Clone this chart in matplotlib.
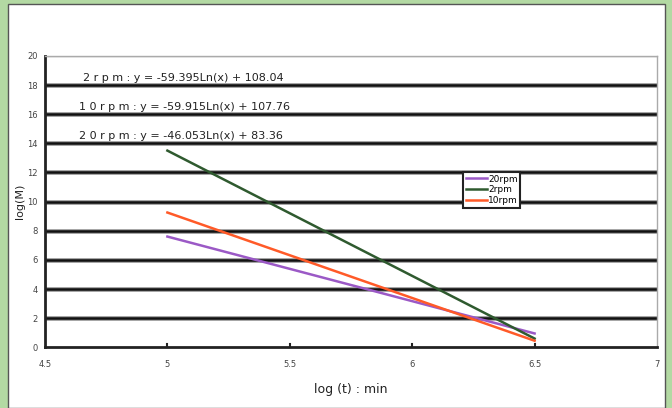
import matplotlib
matplotlib.use('Agg')
import matplotlib.pyplot as plt
from matplotlib.patches import Rectangle

# Données
log_t = [5.0, 6.5]
m_20rpm = [7.6, 0.95]
m_2rpm = [13.5, 0.6]
m_10rpm = [9.25, 0.45]

series_labels = ['20rpm', '2rpm', '10rpm']
series_colors = ['#9b59c6', '#2f5a2f', '#ff5a28']

equations = [
    '2 r p m : y = -59.395Ln(x) + 108.04',
    '1 0 r p m : y = -59.915Ln(x) + 107.76',
    '2 0 r p m : y = -46.053Ln(x) + 83.36',
]

x_ticks = [4.5, 5, 5.5, 6, 6.5, 7]
x_ticklabels = ['4.5', '5', '5.5', '6', '6.5', '7']
y_ticks = list(range(0, 21, 2))

fig = plt.figure(figsize=(6.72, 4.08), dpi=100)
fig.patch.set_facecolor('#b3d9a3')

# Panneau blanc
fig.patches.append(Rectangle((8 / 672, 0), (665 - 8) / 672, 1 - 4 / 408,
                             transform=fig.transFigure, facecolor='white',
                             edgecolor='#555555', linewidth=1.0, zorder=-5))

ax = fig.add_axes([45 / 672, 1 - 347.3 / 408, 612 / 672, 291.4 / 408])
ax.set_facecolor('white')

# Lignes de grille épaisses
for yv in y_ticks[1:-1]:
    ax.axhline(yv, color='#999999', linewidth=3.4, zorder=1)
    ax.axhline(yv, color='#111111', linewidth=1.8, zorder=1)
ax.axhline(20, color='#aaaaaa', linewidth=1.0, zorder=1)

for vals, lab, col in zip([m_20rpm, m_2rpm, m_10rpm], series_labels, series_colors):
    ax.plot(log_t, vals, color=col, linewidth=1.8, label=lab, zorder=3)

ax.set_xlim(4.5, 7)
ax.set_ylim(0, 20)
ax.set_xticks(x_ticks)
ax.set_xticklabels(x_ticklabels)
ax.set_yticks(y_ticks)
ax.tick_params(axis='both', labelsize=6, colors='#444444', length=0, pad=5)
ax.tick_params(axis='x', pad=9)

for side in ['top', 'right']:
    ax.spines[side].set_color('#aaaaaa')
    ax.spines[side].set_linewidth(1.0)
for side in ['left', 'bottom']:
    ax.spines[side].set_color('#222222')
    ax.spines[side].set_linewidth(2.0)

# Petits repères sur l'axe x
for xv in x_ticks[1:-1]:
    ax.plot([xv, xv], [0, 0.2], color='#222222', linewidth=1.5, clip_on=False, zorder=4)

ax.set_xlabel('log (t) : min', fontsize=9, color='#222222', labelpad=10)
ax.set_ylabel('log(M)', fontsize=8, color='#222222', labelpad=2)

eq_pos = [(4.655, 18.15), (4.64, 16.15), (4.64, 14.15)]
for (xv, yv), txt in zip(eq_pos, equations):
    ax.text(xv, yv, txt, fontsize=8, color='#222222', va='bottom', ha='left', zorder=5)

leg = ax.legend(loc='center', bbox_to_anchor=(0.73, 0.54), fontsize=6.5,
                handlelength=2.4, handletextpad=0.1, borderpad=0.25,
                labelspacing=0.2, fancybox=False, framealpha=1)
leg.get_frame().set_edgecolor('#222222')
leg.get_frame().set_linewidth(1.5)
leg.set_zorder(6)

plt.savefig('out.png', dpi=100, facecolor=fig.get_facecolor())
plt.close(fig)
